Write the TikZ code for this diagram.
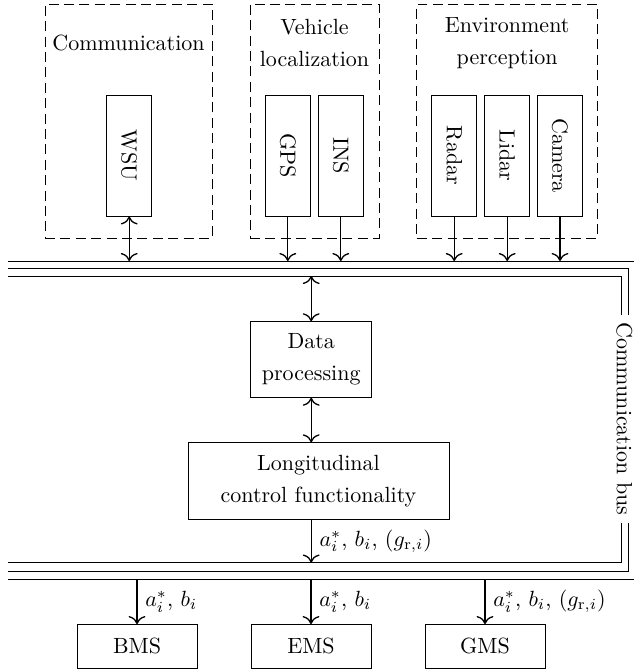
\documentclass[tikz,border=0pt]{standalone}
\usetikzlibrary{arrows.meta}
\def\pxl{0.4545pt}
\begin{document}
\begin{tikzpicture}[x=0.4545pt,y=-0.4545pt,
  group/.style={draw, dash pattern=on 4.5pt off 2.5pt, inner sep=0pt},
  sensor/.style={draw, inner sep=0pt, minimum width={45*\pxl}, minimum height={121*\pxl}},
  block/.style={draw, inner sep=0pt, align=center},
  unit/.style={draw, inner sep=0pt, minimum width={120*\pxl}, minimum height={43.6*\pxl}},
  title/.style={align=center, inner sep=0pt},
  lbl/.style={right, inner sep=3.5pt},
  link/.style={semithick, >={To[scale=1.25]}}]
\useasboundingbox (0,0) rectangle (634,670);

% sensor groups
\node[group, minimum width={167*\pxl}, minimum height={234*\pxl}] (comm) at (128.5,121) {};
\node[group, minimum width={129*\pxl}, minimum height={234*\pxl}] (vloc) at (314.5,121) {};
\node[group, minimum width={181*\pxl}, minimum height={234*\pxl}] (envp) at (507.2,121) {};

\node[title] (commt) at (128.5,43) {Communication};
\node[title] (vloct) at (314.5,43) {Vehicle\\[2.5pt]localization};
\node[title] (envpt) at (507.2,43) {Environment\\[2.5pt]perception};

% sensors
\node[sensor] (wsu)    at (129.2,155.5) {\rotatebox{-90}{WSU}};
\node[sensor] (gps)    at (287.8,155.5) {\rotatebox{-90}{GPS}};
\node[sensor] (ins)    at (340.8,155.5) {\rotatebox{-90}{INS}};
\node[sensor] (radar)  at (454.2,155.5) {\rotatebox{-90}{Radar}};
\node[sensor] (lidar)  at (507.2,155.5) {\rotatebox{-90}{Lidar}};
\node[sensor] (camera) at (560.0,155.5) {\rotatebox{-90}{Camera}};

% processing chain
\node[block, minimum width={121*\pxl}, minimum height={75.6*\pxl}] (data) at (311.2,359.5) {Data\\[2.5pt]processing};
\node[block, minimum width={261*\pxl}, minimum height={76.5*\pxl}] (long) at (318.5,481) {Longitudinal\\[2.5pt]control functionality};

% actuator management systems
\node[unit] (bms) at (137,646.3) {BMS};
\node[unit] (ems) at (311,646.3) {EMS};
\node[unit] (gms) at (485,646.3) {GMS};

% communication bus
\coordinate (bt)  at (8,261);
\coordinate (bte) at (634,261);
\coordinate (bo1) at (8,268.5);
\coordinate (bo2) at (628,268.5);
\coordinate (bo3) at (628,571);
\coordinate (bo4) at (8,571);
\coordinate (bi1) at (8,276);
\coordinate (bi2) at (621,276);
\coordinate (bi3) at (621,562.5);
\coordinate (bi4) at (8,562.5);
\coordinate (bb)  at (8,579);
\coordinate (bbe) at (634,579);
\draw (bt) -- (bte);
\draw (bo1) -- (bo2) -- (bo3) -- (bo4);
\draw (bi1) -- (bi2) -- (bi3) -- (bi4);
\draw (bb) -- (bbe);
\node[rotate=-90, fill=white] (busl) at (624.5,419) {Communication bus};

% connections
\draw[link, <->] (wsu.south) -- (wsu.south |- bt);
\foreach \s in {gps,ins,radar,lidar,camera}
  \draw[link, ->] (\s.south) -- (\s.south |- bt);
\draw[link, <->] (data.north |- bi1) -- (data.north);
\draw[link, <->] (data.south) -- (data.south |- long.north);
\draw[link, ->] (data.south |- long.south) -- (data.south |- bi4)
  node[lbl, midway] {$a_i^*$, $b_i$, $(g_{\mathrm{r},i})$};
\draw[link, ->] (bms.north |- bb) -- (bms.north) node[lbl, midway] {$a_i^*$, $b_i$};
\draw[link, ->] (ems.north |- bb) -- (ems.north) node[lbl, midway] {$a_i^*$, $b_i$};
\draw[link, ->] (gms.north |- bb) -- (gms.north) node[lbl, midway] {$a_i^*$, $b_i$, $(g_{\mathrm{r},i})$};
\end{tikzpicture}
\end{document}
